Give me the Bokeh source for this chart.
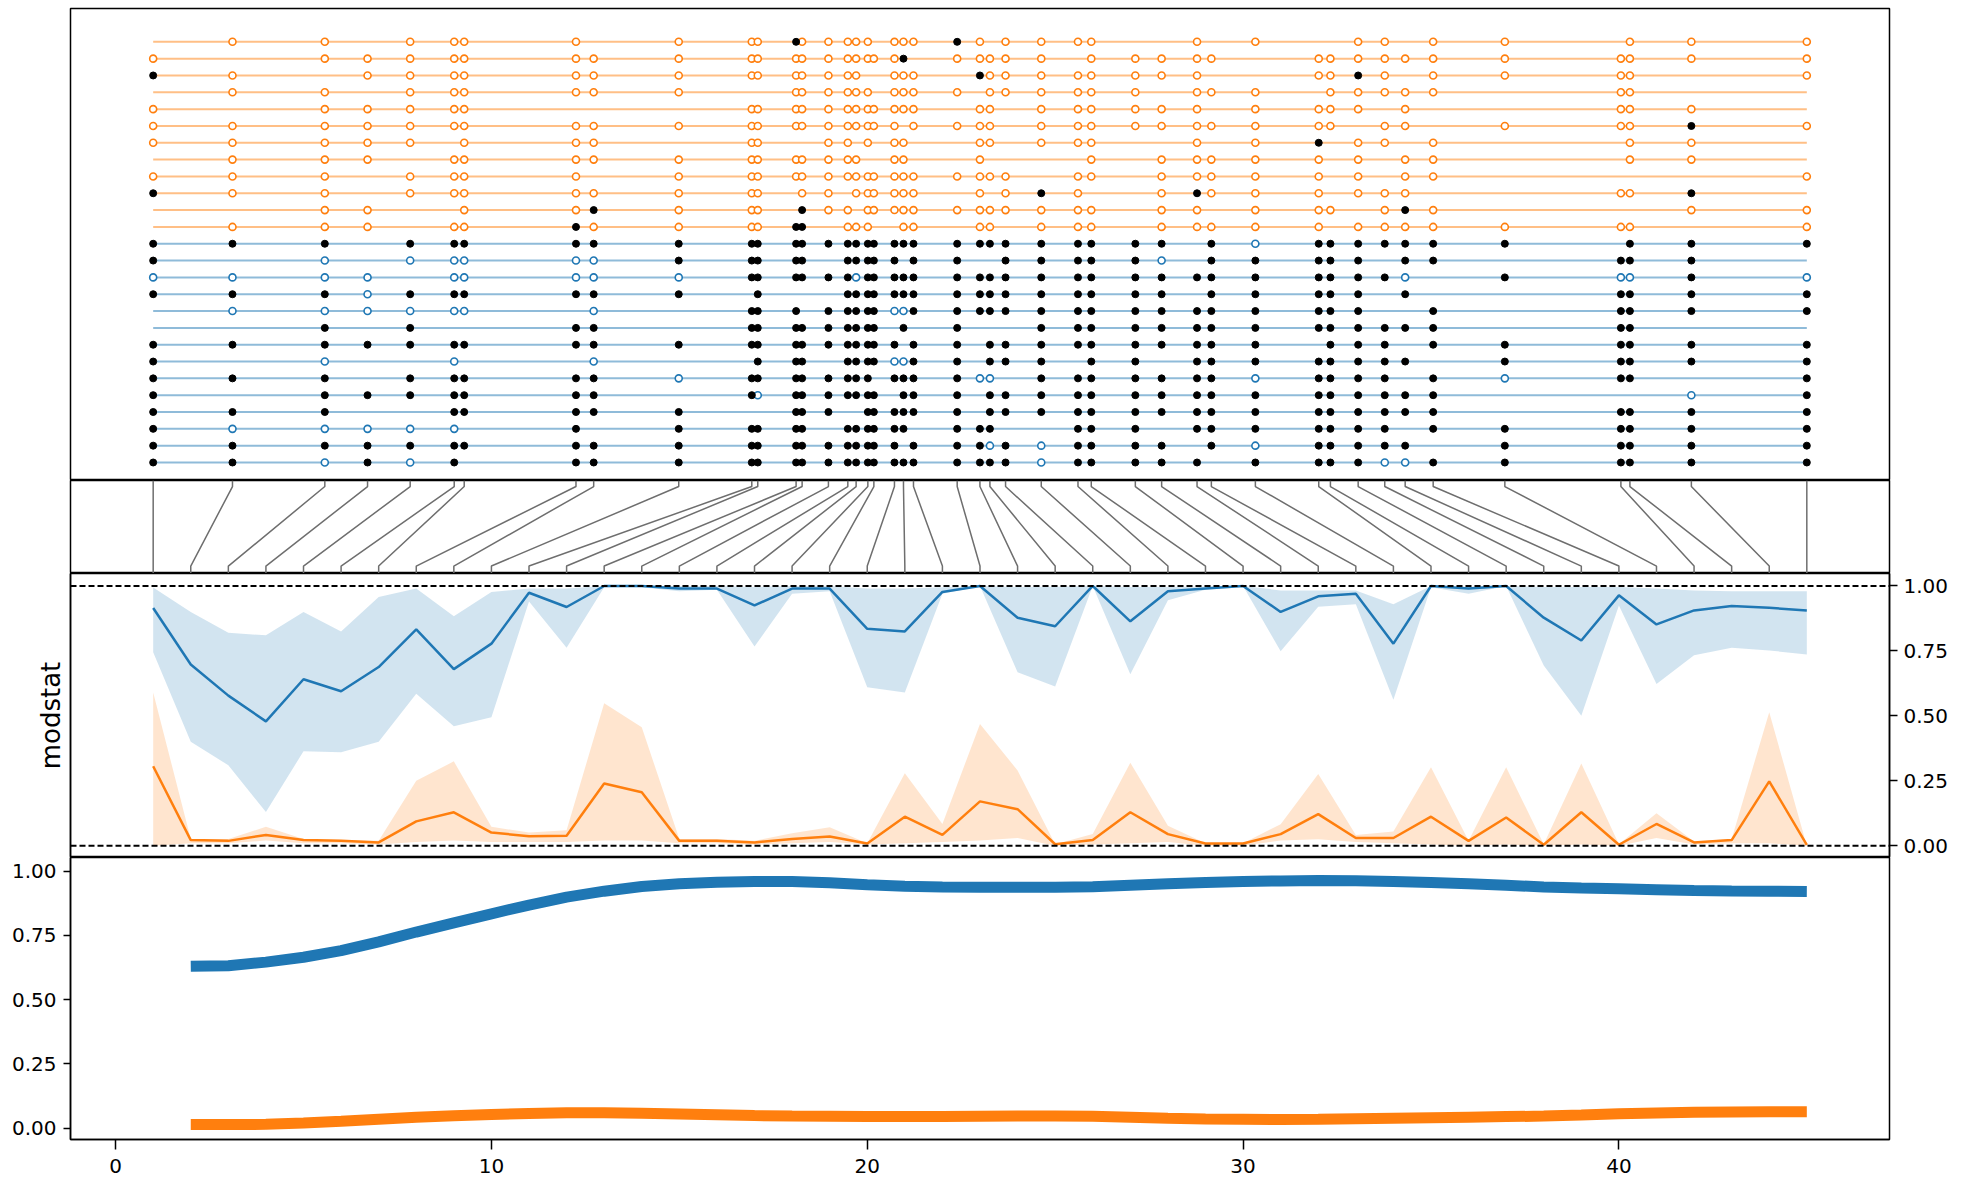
from bokeh.plotting import figure
from bokeh.layouts import column
from bokeh.models import (Range1d, LinearAxis, FixedTicker, NumeralTickFormatter,
                          Span)
from bokeh.embed import file_html
from bokeh.resources import INLINE

# ---------------- data ----------------
# variant positions (in shared axis units) for the 45 sites
snp_pos = [1.0, 3.110, 5.567, 6.704, 7.838, 9.010, 9.276, 12.250, 12.721, 14.984,
           16.928, 17.087, 18.107, 18.267, 18.967, 19.483, 19.704, 20.016, 20.176, 20.724,
           20.964, 21.230, 22.393, 22.998, 23.264, 23.680, 24.630, 25.607, 25.961, 27.133,
           27.833, 28.775, 29.156, 30.327, 32.013, 32.324, 33.062, 33.770, 34.313, 35.058,
           36.965, 40.053, 40.293, 41.928, 45.0]
site_idx = list(range(1, 46))

# haplotypes: '.' no marker, 'o' open (group colour), 'x' filled black
hap_orange = [
    ".oo.oooo.o" "ooxooooo.o" "ooxo.oooo." ".o.o..oo.o" "o.ooo",
    "o.oooooooo" "oooooooooo" "x.ooooo.oo" "ooo.oooooo" "ooooo",
    "xo.ooooooo" "ooooooo..o" "oo.xoooooo" "oo..ooxo.o" "ooo.o",
    ".oo.oooooo" "..oooooo.o" "ooo.oooooo" ".ooo.ooooo" ".oo..",
    "o.ooooo..." "oooooooooo" "oo.oo.oooo" "oo.oooo.o." ".ooo.",
    "oooooooooo" "oooooooooo" ".oooo.oooo" "oooooo.oo." "oooxo",
    "ooooo.ooo." "oo..oo.o.o" "o..oo.ooo." ".o.ox.oo.o" "..oo.",
    ".ooo.ooooo" "ooooooo..o" "o..o....o." "ooooo.o.oo" "..oo.",
    "ooo.oooo.o" "oooooooooo" "oooooo.oo." "ooooo.o.oo" "....o",
    "xoo.oooooo" "oo.oo.oooo" "oo.o.oxo.." "oxooo.ooo." ".oox.",
    "..oo..ooxo" "oo.xoo.ooo" "ooooooooo." "oo.ooo.oxo" "...oo",
    ".ooo.ooxoo" "ooxx.ooo.." "oo.oo.ooo." "ooooo.oooo" "ooo.o",
]
hap_blue = [
    "xxx.xxxxxx" "xxxxxxxxxx" "xxxxxxxxxx" "x.xoxxxxxx" "x.xxx",
    "x.o.ooooox" "xxxx.xxxxx" ".xx..xxxxx" "o.xxxxx.xx" ".xxx.",
    "oooo.ooooo" "xxxxxxoxxx" "xxxxxxxxxx" "xxxxxxxxo." "xooxo",
    "xxxoxxxxxx" ".x...xxxxx" "xxxxxxxxxx" "x.xxxxx.x." ".xxxx",
    ".oooooo.o." "xxx.xxxxxo" "oxxxxxxxxx" "xxxxxxx..x" ".xxxx",
    "..x.x..xx." "xxxxxxxxx." "x.x...xxxx" "xxxxxxxxxx" ".xx..",
    "xxxxxxxxxx" "xxxxxxxxxx" ".xx.xxxxxx" "xxxx.xxx.x" "xxxxx",
    "x.o..o..o." ".xxx.xxxxo" "oxx.xxx.xx" ".xxxxxxxx." "xxxxx",
    "xxx.xxxxxo" "xxxxxxxx.x" "xxxoo.xxxx" "xxxoxxxx.x" "oxx.x",
    "x.xxxxxxx." "xoxxxxxxx." "xxx.xxxxxx" "xxxxxxxxxx" "...ox",
    "xxx..xxxxx" "..xxx..xxx" "xxx.xxxxxx" "xxxxxxxxxx" ".xxxx",
    "xooooo.x.x" "xxxx.xxxxx" "x.xxx..xxx" ".xxxxxxx.x" "xxxxx",
    "xxxxxxxxxx" "xxxxxxxxxx" ".xxxoxoxxx" "x.xoxxxxx." "xxxxx",
    "xxoxox.xxx" "xxxxxxxxxx" "xxxxxxoxxx" "xx.xxxxoox" "xxxxx",
]

# modstat per site
blue_mid = [0.915, 0.698, 0.578, 0.479, 0.641, 0.595, 0.688, 0.833, 0.680, 0.778,
            0.974, 0.919, 1.0, 1.0, 0.99, 0.99, 0.925, 0.99, 0.99, 0.835,
            0.825, 0.977, 1.0, 0.878, 0.845, 1.0, 0.864, 0.98, 0.99, 1.0,
            0.90, 0.96, 0.97, 0.778, 1.0, 0.99, 1.0, 0.878, 0.79, 0.964,
            0.852, 0.906, 0.923, 0.916, 0.906]
blue_hi = [0.994, 0.90, 0.82, 0.81, 0.90, 0.825, 0.958, 0.99, 0.883, 0.977,
           0.99, 0.99, 1.0, 1.0, 1.0, 1.0, 0.996, 1.0, 1.0, 0.99,
           0.99, 0.995, 1.0, 0.996, 0.997, 1.0, 0.996, 0.996, 0.998, 1.0,
           0.983, 0.983, 0.983, 0.93, 1.0, 0.997, 1.0, 0.996, 0.996, 0.996,
           0.99, 0.983, 0.98, 0.98, 0.98]
blue_lo = [0.745, 0.40, 0.31, 0.13, 0.364, 0.36, 0.40, 0.585, 0.46, 0.495,
           0.94, 0.762, 0.995, 0.995, 0.98, 0.985, 0.767, 0.97, 0.98, 0.61,
           0.59, 0.97, 1.0, 0.668, 0.613, 1.0, 0.66, 0.945, 0.985, 1.0,
           0.749, 0.92, 0.93, 0.562, 0.995, 0.97, 1.0, 0.694, 0.501, 0.925,
           0.623, 0.733, 0.762, 0.752, 0.736]
orange_mid = [0.306, 0.022, 0.019, 0.042, 0.022, 0.019, 0.013, 0.094, 0.129, 0.051,
              0.037, 0.039, 0.24, 0.206, 0.019, 0.019, 0.013, 0.026, 0.036, 0.009,
              0.112, 0.042, 0.171, 0.141, 0.006, 0.022, 0.129, 0.045, 0.009, 0.009,
              0.045, 0.122, 0.030, 0.030, 0.112, 0.019, 0.109, 0.004, 0.129, 0.004,
              0.084, 0.013, 0.022, 0.248, 0.004]
orange_hi = [0.59, 0.026, 0.026, 0.073, 0.026, 0.022, 0.019, 0.25, 0.325, 0.073,
             0.051, 0.06, 0.549, 0.456, 0.026, 0.026, 0.019, 0.048, 0.071, 0.01,
             0.279, 0.084, 0.469, 0.29, 0.006, 0.045, 0.32, 0.077, 0.01, 0.01,
             0.083, 0.276, 0.042, 0.055, 0.302, 0.019, 0.302, 0.006, 0.317, 0.006,
             0.125, 0.017, 0.026, 0.514, 0.0]
orange_lo = [0.0, 0.01, 0.01, 0.02, 0.01, 0.01, 0.005, 0.015, 0.02, 0.015,
             0.015, 0.015, 0.02, 0.02, 0.01, 0.01, 0.005, 0.01, 0.015, 0.005,
             0.01, 0.015, 0.02, 0.03, 0.0, 0.005, 0.01, 0.015, 0.0, 0.0,
             0.02, 0.025, 0.015, 0.01, 0.005, 0.0, 0.005, 0.0, 0.005, 0.0,
             0.03, 0.005, 0.01, 0.01, 0.0]

# smoothed curves (bottom panel)
smooth_x = list(range(2, 46))
smooth_blue = [0.630, 0.632, 0.646, 0.665, 0.691, 0.725, 0.763, 0.799, 0.834, 0.868,
               0.899, 0.922, 0.940, 0.951, 0.957, 0.960, 0.960, 0.955, 0.947, 0.941,
               0.938, 0.937, 0.937, 0.937, 0.939, 0.945, 0.951, 0.956, 0.960, 0.962,
               0.964, 0.963, 0.960, 0.956, 0.951, 0.945, 0.938, 0.934, 0.931, 0.928,
               0.925, 0.923, 0.922, 0.921]
smooth_orange = [0.014, 0.014, 0.015, 0.020, 0.027, 0.035, 0.043, 0.048, 0.053, 0.057,
                 0.060, 0.060, 0.058, 0.055, 0.052, 0.049, 0.047, 0.046, 0.045, 0.045,
                 0.045, 0.046, 0.047, 0.047, 0.046, 0.043, 0.039, 0.036, 0.035, 0.034,
                 0.035, 0.037, 0.039, 0.041, 0.043, 0.045, 0.047, 0.051, 0.056, 0.059,
                 0.062, 0.063, 0.064, 0.064]

x_ticks = [0, 10, 20, 30, 40]
y_ticks = [0, 0.25, 0.5, 0.75, 1.0]

# ---------------- styling ----------------
BLUE = "#1f77b4"
ORANGE = "#ff7f0e"
FONT = "DejaVu Sans"
FS = "20px"
W = 1958
LB, RB = 70, 69

xr = Range1d(-1.2, 47.2)


def base(h, yr, bt=0, bb=0):
    p = figure(width=W, height=h, x_range=xr, y_range=yr, output_backend="svg",
               toolbar_location=None, x_axis_location=None, y_axis_location=None,
               min_border_left=LB, min_border_right=RB, min_border_top=bt,
               min_border_bottom=bb)
    p.xgrid.visible = False
    p.ygrid.visible = False
    p.outline_line_color = "black"
    p.outline_line_width = 1.5
    p.outline_line_alpha = 1.0
    p.background_fill_color = "white"
    p.border_fill_color = "white"
    return p


def strip_grids(p):
    for r in list(p.center):
        if r.__class__.__name__ == "Grid":
            r.visible = False


# ---- panel 1: haplotypes ----
p1 = base(480, Range1d(-1.07, 26.98), bt=8)
all_rows = [(r, ORANGE) for r in hap_orange] + [(r, BLUE) for r in hap_blue]
n = len(all_rows)
ox, oy, oc, bx, by = [], [], [], [], []
lx, ly, lc = [], [], []
for i, (row, col) in enumerate(all_rows):
    y = n - 1 - i
    lx.append([snp_pos[0], snp_pos[-1]])
    ly.append([y, y])
    lc.append(col)
    for j, ch in enumerate(row[:len(snp_pos)]):
        if ch == "o":
            ox.append(snp_pos[j]); oy.append(y); oc.append(col)
        elif ch == "x":
            bx.append(snp_pos[j]); by.append(y)
p1.multi_line(xs=lx, ys=ly, line_color=lc, line_alpha=0.5, line_width=2)
p1.scatter(x=ox, y=oy, marker="circle", size=7, fill_color="white",
           line_color=oc, line_width=1.6)
p1.scatter(x=bx, y=by, marker="circle", size=7, fill_color="black",
           line_color="black", line_width=1)

# ---- panel 2: connectors ----
p2 = base(93, Range1d(0, 1))
cxs = [[snp_pos[k], snp_pos[k], site_idx[k], site_idx[k]] for k in range(len(snp_pos))]
cys = [[1, 0.935, 0.08, 0] for _ in range(len(snp_pos))]
p2.multi_line(xs=cxs, ys=cys, line_color="#6e6e6e", line_width=1.5)

# ---- panel 3: modstat ----
p3 = base(284, Range1d(-0.045, 1.048))
p3.varea(x=site_idx, y1=blue_lo, y2=blue_hi, fill_color=BLUE, fill_alpha=0.2)
p3.varea(x=site_idx, y1=orange_lo, y2=orange_hi, fill_color=ORANGE, fill_alpha=0.2)
p3.line(x=site_idx, y=blue_mid, line_color=BLUE, line_width=2.5)
p3.line(x=site_idx, y=orange_mid, line_color=ORANGE, line_width=2.5)
for loc in (0, 1):
    p3.add_layout(Span(location=loc, dimension="width", line_color="black",
                       line_dash="6 3", line_width=2))
ax_r = LinearAxis(ticker=FixedTicker(ticks=y_ticks),
                  formatter=NumeralTickFormatter(format="0.00"))
ax_r.major_tick_out = 8
ax_r.major_tick_in = 0
ax_r.minor_tick_out = 0
ax_r.minor_tick_in = 0
ax_r.major_label_standoff = 6
ax_r.major_label_text_font = FONT
ax_r.major_label_text_font_size = FS
ax_r.major_label_text_color = "black"
ax_r.major_tick_line_color = "black"
ax_r.major_tick_line_width = 1.5
ax_r.axis_line_color = "black"
ax_r.axis_line_width = 1.5
p3.add_layout(ax_r, "right")
ax_l = LinearAxis(ticker=FixedTicker(ticks=[]), axis_label="modstat")
ax_l.major_tick_out = 0
ax_l.major_tick_in = 0
ax_l.minor_tick_out = 0
ax_l.minor_tick_in = 0
ax_l.major_label_standoff = 0
ax_l.major_label_text_font_size = "0px"
ax_l.axis_label_standoff = 5
ax_l.axis_label_text_font = FONT
ax_l.axis_label_text_font_size = "26px"
ax_l.axis_label_text_font_style = "normal"
ax_l.axis_label_text_color = "black"
ax_l.axis_line_color = "black"
ax_l.axis_line_width = 1.5
p3.add_layout(ax_l, "left")

# ---- panel 4: smoothed ----
p4 = figure(width=W, height=326, x_range=xr, y_range=Range1d(-0.044, 1.053),
            output_backend="svg", toolbar_location=None,
            min_border_left=LB, min_border_right=RB, min_border_top=0,
            min_border_bottom=44)
p4.xgrid.visible = False
p4.ygrid.visible = False
p4.outline_line_color = "black"
p4.outline_line_width = 1.5
p4.outline_line_alpha = 1.0
p4.line(x=smooth_x, y=smooth_blue, line_color=BLUE, line_width=11)
p4.line(x=smooth_x, y=smooth_orange, line_color=ORANGE, line_width=11)
p4.xaxis.ticker = FixedTicker(ticks=x_ticks)
p4.yaxis.ticker = FixedTicker(ticks=y_ticks)
p4.yaxis.formatter = NumeralTickFormatter(format="0.00")
for ax, tick_len, st in ((p4.xaxis, 10, 9), (p4.yaxis, 7, 7)):
    ax.major_tick_out = tick_len
    ax.major_tick_in = 0
    ax.minor_tick_out = 0
    ax.minor_tick_in = 0
    ax.major_label_standoff = st
    ax.major_label_text_font = FONT
    ax.major_label_text_font_size = FS
    ax.major_label_text_color = "black"
    ax.major_tick_line_color = "black"
    ax.major_tick_line_width = 1.5
    ax.axis_line_color = "black"
    ax.axis_line_width = 1.5

for p in (p1, p2, p3, p4):
    strip_grids(p)

layout = column(p1, p2, p3, p4, spacing=0)
open("out.html", "w").write(file_html(layout, INLINE))
